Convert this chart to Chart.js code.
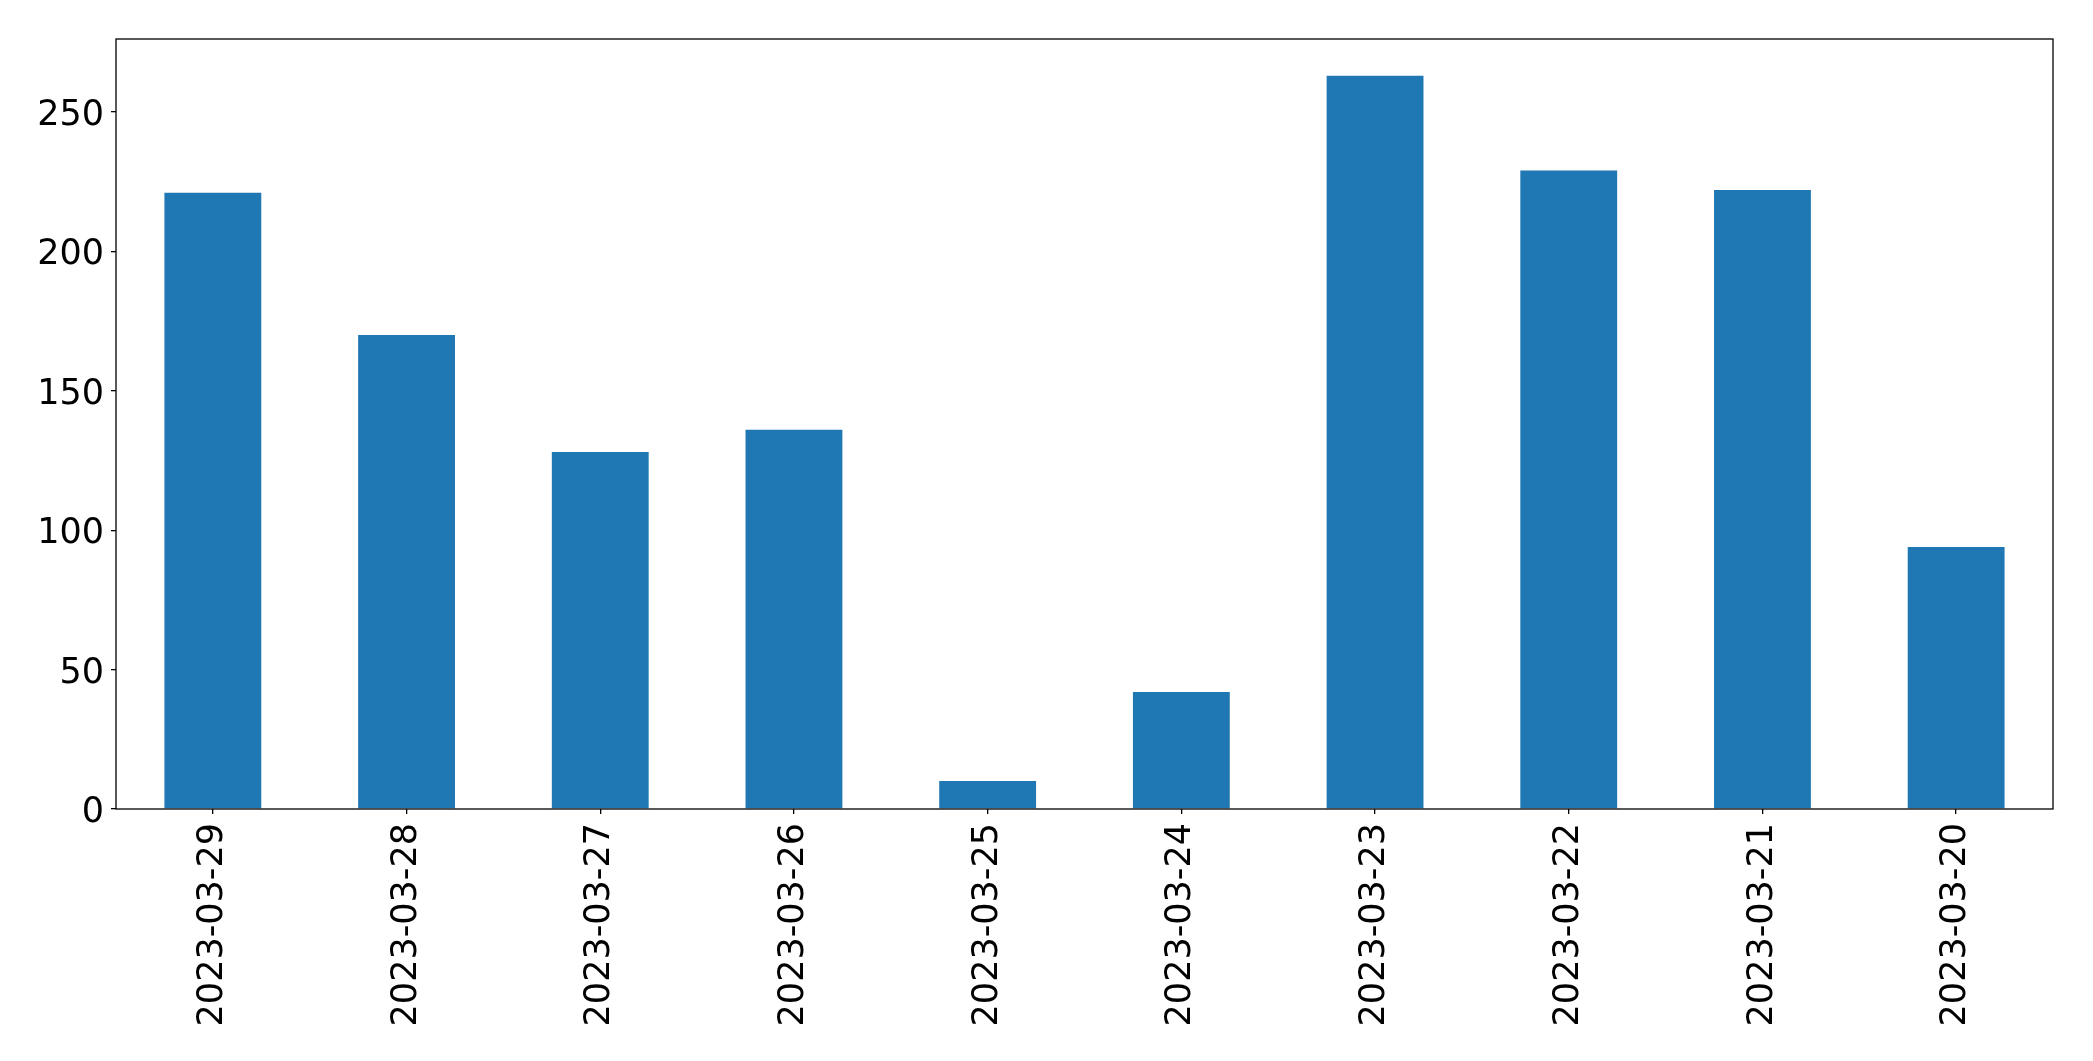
<!DOCTYPE html>
<html>
<head>
<meta charset="utf-8">
<script src="https://cdn.jsdelivr.net/npm/chart.js@4/dist/chart.umd.min.js"></script>
<style>
html,body{margin:0;padding:0;background:#fff;}
canvas{display:block;}
</style>
</head>
<body>
<canvas id="c" width="2093" height="1061"></canvas>
<script>
const categories = ["2023-03-29","2023-03-28","2023-03-27","2023-03-26","2023-03-25","2023-03-24","2023-03-23","2023-03-22","2023-03-21","2023-03-20"];
const values = [221, 170, 128, 136, 10, 42, 263, 229, 222, 94];
const yTicks = [0, 50, 100, 150, 200, 250];
const yMax = 276.15;

const frame = {
  id: 'frame',
  afterDatasetsDraw(chart) {
    const a = chart.chartArea, ctx = chart.ctx;
    ctx.save();
    ctx.strokeStyle = '#000';
    ctx.lineWidth = 1.3;
    ctx.strokeRect(a.left, a.top, a.right - a.left, a.bottom - a.top);
    ctx.restore();
  }
};

new Chart(document.getElementById('c'), {
  type: 'bar',
  data: {
    labels: categories,
    datasets: [{
      data: values,
      backgroundColor: '#1f77b4',
      borderWidth: 0,
      barPercentage: 0.5,
      categoryPercentage: 1.0
    }]
  },
  options: {
    responsive: false,
    animation: false,
    devicePixelRatio: 1,
    layout: { padding: { top: 39, right: 40, left: 0, bottom: 0 } },
    plugins: { legend: { display: false }, tooltip: { enabled: false } },
    scales: {
      x: {
        offset: true,
        grid: { display: true, offset: false, drawOnChartArea: false, drawTicks: true, tickLength: 5, color: '#000', lineWidth: 1.3 },
        border: { display: false },
        ticks: {
          color: '#000',
          font: { family: 'DejaVu Sans', size: 35 },
          maxRotation: 90, minRotation: 90,
          padding: 9,
          autoSkip: false
        },
        afterFit(scale) { scale.height = 252; }
      },
      y: {
        min: 0, max: yMax,
        grid: { display: true, drawOnChartArea: false, drawTicks: true, tickLength: 5, color: '#000', lineWidth: 1.3 },
        border: { display: false },
        ticks: {
          color: '#000',
          font: { family: 'DejaVu Sans', size: 35 },
          padding: 7,
          labelOffset: 4
        },
        afterBuildTicks(scale) { scale.ticks = yTicks.map(v => ({ value: v })); },
        afterFit(scale) { scale.width = 116; }
      }
    }
  },
  plugins: [frame]
});
</script>
</body>
</html>
